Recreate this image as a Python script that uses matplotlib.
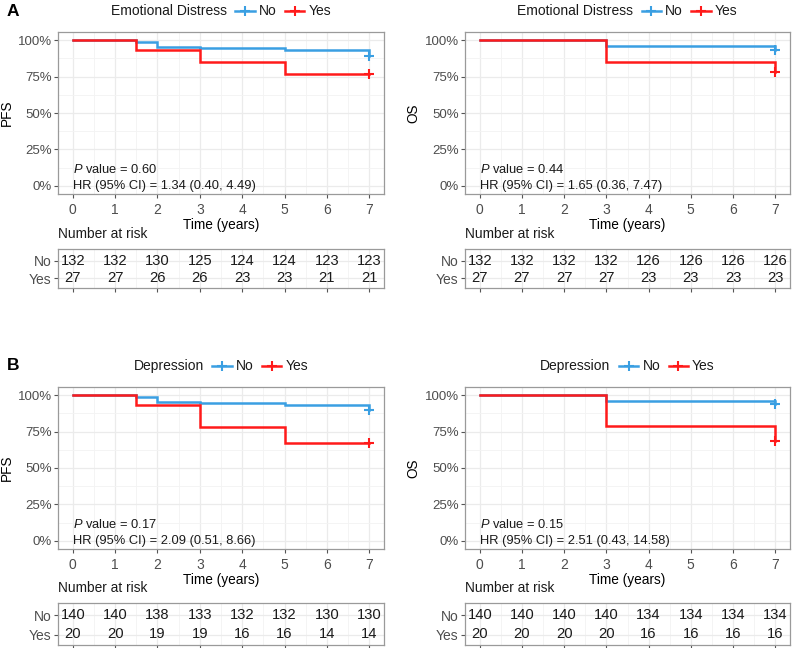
import matplotlib
matplotlib.use("Agg")
import matplotlib.pyplot as plt
from matplotlib.lines import Line2D
from matplotlib.offsetbox import TextArea, DrawingArea, HPacker, AnchoredOffsetbox
from matplotlib.ticker import FuncFormatter, MultipleLocator

plt.rcParams['font.family'] = ['Liberation Sans', 'DejaVu Sans']
plt.rcParams['mathtext.fontset'] = 'custom'
plt.rcParams['mathtext.it'] = 'Liberation Sans:italic'
plt.rcParams['mathtext.rm'] = 'Liberation Sans'

BLUE = '#3A9FE2'
RED = '#FF1A1A'
GRID = '#EBEBEB'
BORDER = '#9A9A9A'
TICKTXT = '#4D4D4D'

# ---------------- data ----------------
time_ticks = [0, 1, 2, 3, 4, 5, 6, 7]
groups = ['No', 'Yes']

# Panel A, PFS (Emotional Distress)
a_pfs_no_t = [0, 1.5, 2, 3, 5, 7]
a_pfs_no_s = [1.0, 0.984, 0.953, 0.943, 0.930, 0.890]
a_pfs_yes_t = [0, 1.5, 3, 5, 7]
a_pfs_yes_s = [1.0, 0.935, 0.849, 0.768, 0.768]
a_pfs_risk_no = [132, 132, 130, 125, 124, 124, 123, 123]
a_pfs_risk_yes = [27, 27, 26, 26, 23, 23, 21, 21]

# Panel A, OS
a_os_no_t = [0, 3, 7]
a_os_no_s = [1.0, 0.959, 0.935]
a_os_yes_t = [0, 3, 7]
a_os_yes_s = [1.0, 0.849, 0.782]
a_os_risk_no = [132, 132, 132, 132, 126, 126, 126, 126]
a_os_risk_yes = [27, 27, 27, 27, 23, 23, 23, 23]

# Panel B, PFS (Depression)
b_pfs_no_t = [0, 1.5, 2, 3, 5, 7]
b_pfs_no_s = [1.0, 0.984, 0.955, 0.948, 0.932, 0.899]
b_pfs_yes_t = [0, 1.5, 3, 5, 7]
b_pfs_yes_s = [1.0, 0.935, 0.784, 0.669, 0.669]
b_pfs_risk_no = [140, 140, 138, 133, 132, 132, 130, 130]
b_pfs_risk_yes = [20, 20, 19, 19, 16, 16, 14, 14]

# Panel B, OS
b_os_no_t = [0, 3, 7]
b_os_no_s = [1.0, 0.959, 0.939]
b_os_yes_t = [0, 3, 7]
b_os_yes_s = [1.0, 0.786, 0.685]
b_os_risk_no = [140, 140, 140, 140, 134, 134, 134, 134]
b_os_risk_yes = [20, 20, 20, 20, 16, 16, 16, 16]

panels = [
    dict(box=(58, 32, 384, 194), tbox=(58, 249, 384, 288), legend='Emotional Distress', ylabel='PFS',
         no=(a_pfs_no_t, a_pfs_no_s), yes=(a_pfs_yes_t, a_pfs_yes_s),
         risk=(a_pfs_risk_no, a_pfs_risk_yes), p='0.60', hr='1.34 (0.40, 4.49)', tag='A'),
    dict(box=(465, 32, 790, 194), tbox=(465, 249, 790, 288), legend='Emotional Distress', ylabel='OS',
         no=(a_os_no_t, a_os_no_s), yes=(a_os_yes_t, a_os_yes_s),
         risk=(a_os_risk_no, a_os_risk_yes), p='0.44', hr='1.65 (0.36, 7.47)', tag=None),
    dict(box=(58, 387, 384, 549), tbox=(58, 603, 384, 645), legend='Depression', ylabel='PFS',
         no=(b_pfs_no_t, b_pfs_no_s), yes=(b_pfs_yes_t, b_pfs_yes_s),
         risk=(b_pfs_risk_no, b_pfs_risk_yes), p='0.17', hr='2.09 (0.51, 8.66)', tag='B'),
    dict(box=(465, 387, 790, 549), tbox=(465, 603, 790, 645), legend='Depression', ylabel='OS',
         no=(b_os_no_t, b_os_no_s), yes=(b_os_yes_t, b_os_yes_s),
         risk=(b_os_risk_no, b_os_risk_yes), p='0.15', hr='2.51 (0.43, 14.58)', tag=None),
]

W, H = 794, 648
fig = plt.figure(figsize=(W / 100, H / 100), dpi=100)


def rect(b):
    x0, y0, x1, y1 = b
    return [x0 / W, 1 - y1 / H, (x1 - x0) / W, (y1 - y0) / H]


def style_axes(ax):
    for s in ax.spines.values():
        s.set_color(BORDER)
        s.set_linewidth(0.9)
    ax.set_axisbelow(True)
    ax.grid(which='major', color=GRID, linewidth=0.9)
    ax.grid(which='minor', color='#F3F3F3', linewidth=0.6)
    ax.tick_params(which='major', colors='#555555', labelcolor=TICKTXT, labelsize=9.5, length=3, width=0.8)
    ax.tick_params(which='minor', length=0)


XL = (-0.35, 7.35)

for pnl in panels:
    ax = fig.add_axes(rect(pnl['box']))
    style_axes(ax)
    ax.set_xlim(*XL)
    ax.set_ylim(-0.055, 1.055)
    ax.xaxis.set_major_locator(MultipleLocator(1))
    ax.xaxis.set_minor_locator(MultipleLocator(0.5))
    ax.yaxis.set_major_locator(MultipleLocator(0.25))
    ax.yaxis.set_minor_locator(MultipleLocator(0.125))
    ax.yaxis.set_major_formatter(FuncFormatter(lambda v, _: f"{int(round(v * 100))}%"))
    ax.set_xticks(time_ticks)
    ax.set_xticklabels([str(t) for t in time_ticks])
    ax.tick_params(axis='x', pad=3.5, labelsize=10)
    ax.tick_params(axis='y', pad=1.5)

    for (t, s), col in ((pnl['no'], BLUE), (pnl['yes'], RED)):
        ax.step(t, s, where='post', color=col, linewidth=1.8, solid_joinstyle='miter')
        ax.plot(t[-1], s[-1], marker='+', color=col, markersize=7, markeredgewidth=1.5, linestyle='none')

    ax.set_xlabel('Time (years)', fontsize=9.8, labelpad=0.5)
    ax.set_ylabel(pnl['ylabel'], fontsize=9.8, labelpad=3)

    ax.text(0, 0.11, r'$P$ value = ' + pnl['p'], fontsize=9.3, va='center', ha='left', color='#1a1a1a')
    ax.text(0, 0.0, 'HR (95% CI) = ' + pnl['hr'], fontsize=9.3, va='center', ha='left', color='#1a1a1a')

    # legend: title + keys in a row
    items = [TextArea(pnl['legend'], textprops=dict(fontsize=10, color='#1a1a1a'))]
    for lab, col in zip(groups, (BLUE, RED)):
        da = DrawingArea(14, 8, 0, 0)
        da.add_artist(Line2D([0, 14], [4, 4], color=col, linewidth=1.8))
        da.add_artist(Line2D([7], [4], color=col, marker='+', markersize=7, markeredgewidth=1.5))
        items.append(HPacker(children=[da, TextArea(lab, textprops=dict(fontsize=10, color='#1a1a1a'))],
                             pad=0, sep=3, align='center'))
    box = HPacker(children=items, pad=0, sep=6, align='center')
    anchored = AnchoredOffsetbox(loc='center', child=box, pad=0, frameon=False,
                                 bbox_to_anchor=(0.5, 1 + 21 / 162), bbox_transform=ax.transAxes,
                                 borderpad=0)
    ax.add_artist(anchored)

    if pnl['tag']:
        fig.text(7 / W, 1 - (pnl['box'][1] - 21) / H, pnl['tag'], fontsize=12.5, fontweight='bold',
                 ha='left', va='center')

    # risk table
    tx = fig.add_axes(rect(pnl['tbox']))
    style_axes(tx)
    tx.set_xlim(*XL)
    tx.set_ylim(0.45, 2.65)
    tx.xaxis.set_major_locator(MultipleLocator(1))
    tx.xaxis.set_minor_locator(MultipleLocator(0.5))
    tx.set_xticks(time_ticks)
    tx.set_xticklabels([])
    tx.set_yticks([2, 1])
    tx.set_yticklabels(groups)
    tx.tick_params(axis='y', labelsize=10, pad=1.5)
    for row, vals in zip((2, 1), pnl['risk']):
        for t, v in zip(time_ticks, vals):
            tx.text(t, row, str(v), ha='center', va='center', fontsize=10.6, color='#1a1a1a')
    th = pnl['tbox'][3] - pnl['tbox'][1]
    tx.text(0, 1 + 8 / th, 'Number at risk', transform=tx.transAxes, ha='left', va='bottom',
            fontsize=9.9, color='#1a1a1a')

fig.savefig('out.png', dpi=100, facecolor='white')
